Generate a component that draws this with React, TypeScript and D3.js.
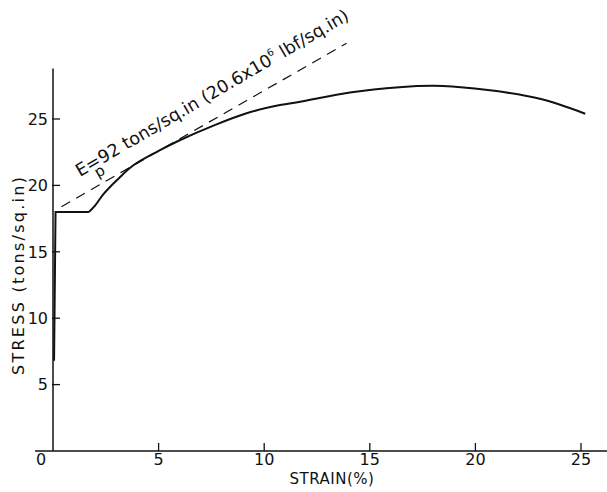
import * as d3 from 'd3';

// stress-strain curve (strain %, stress tons/sq.in)
const elasticStrain = [0.05, 0.12, 0.14, 1.7];
const elasticStress = [6.8, 18.0, 18.0, 18.0];

const hardStrain = [1.7, 2.0, 2.37, 3.03, 3.79, 5.0, 6.0, 7.6, 9.2, 10.75, 11.7, 14.06, 16.4, 18.0, 18.9, 21.0, 23.1, 25.2];
const hardStress = [18.0, 18.5, 19.3, 20.4, 21.5, 22.6, 23.4, 24.5, 25.45, 26.05, 26.3, 27.0, 27.4, 27.5, 27.45, 27.1, 26.5, 25.4];

// tangent modulus line
const tangentStrain = [0.4, 13.9];
const tangentStress = [18.4, 30.7];

const xTicks = [5, 10, 15, 20, 25];
const yTicks = [5, 10, 15, 20, 25];

const W = 607;
const H = 492;
const FONT = 'DejaVu Sans, sans-serif';

export default function App() {
  const x = d3.scaleLinear().domain([0, 25]).range([53, 581]);
  const y = d3.scaleLinear().domain([0, 25]).range([451, 119]);

  const line = d3.line<[number, number]>()
    .x(d => x(d[0]))
    .y(d => y(d[1]));

  const smooth = d3.line<[number, number]>()
    .x(d => x(d[0]))
    .y(d => y(d[1]))
    .curve(d3.curveCatmullRom.alpha(0.5));

  const elastic = elasticStrain.map((s, i) => [s, elasticStress[i]] as [number, number]);
  const hard = hardStrain.map((s, i) => [s, hardStress[i]] as [number, number]);
  const tangent = tangentStrain.map((s, i) => [s, tangentStress[i]] as [number, number]);

  const angle = (Math.atan2(y(tangentStress[0]) - y(tangentStress[1]), x(tangentStrain[1]) - x(tangentStrain[0])) * 180) / Math.PI;

  return (
    <svg width={W} height={H} style={{ position: 'absolute', left: 0, top: 0, background: '#fff' }} fontFamily={FONT}>
      {/* axes */}
      <line x1={x(-0.85)} x2={W} y1={y(0)} y2={y(0)} stroke="#111" strokeWidth={1.5} />
      <line x1={x(0)} x2={x(0)} y1={y(0)} y2={y(28.8)} stroke="#111" strokeWidth={1.5} />

      {xTicks.map(t => (
        <g key={'x' + t}>
          <line x1={x(t)} x2={x(t)} y1={y(0)} y2={y(0) - 8} stroke="#111" strokeWidth={1.3} />
          <text x={x(t)} y={465} textAnchor="middle" fontSize={16} fill="#111">{t}</text>
        </g>
      ))}
      <text x={x(0) - 12} y={465} textAnchor="middle" fontSize={16} fill="#111">0</text>

      {yTicks.map(t => (
        <g key={'y' + t}>
          <line x1={x(0) - 1} x2={x(0) + 7} y1={y(t)} y2={y(t)} stroke="#111" strokeWidth={1.3} />
          <text x={48} y={y(t)} dy="0.36em" textAnchor="end" fontSize={16} fill="#111">{t}</text>
        </g>
      ))}

      {/* axis titles */}
      <text x={332} y={484} textAnchor="middle" fontSize={15} fill="#111" letterSpacing={0.5}>STRAIN(%)</text>
      <text transform={`translate(24,${276}) rotate(-90)`} textAnchor="middle" fontSize={16} fill="#111"
        textLength={198} lengthAdjust="spacing">STRESS (tons/sq.in)</text>

      {/* curves */}
      <path d={line(tangent) ?? ''} fill="none" stroke="#111" strokeWidth={1.2} strokeDasharray="10 7" />
      <path d={line(elastic) ?? ''} fill="none" stroke="#111" strokeWidth={2} />
      <path d={smooth(hard) ?? ''} fill="none" stroke="#111" strokeWidth={2} />

      {/* annotation */}
      <g transform={`translate(80,177) rotate(${-(angle + 0.5)})`} fill="#111">
        <text x={0} y={0} fontSize={17.5} textLength={313} lengthAdjust="spacing">
          E=92 tons/sq.in (20.6x10<tspan fontSize={10} dy={-8}>6</tspan><tspan dy={8}> lbf/sq.in)</tspan>
        </text>
        <text x={15} y={10} fontSize={15}>p</text>
      </g>
    </svg>
  );
}
